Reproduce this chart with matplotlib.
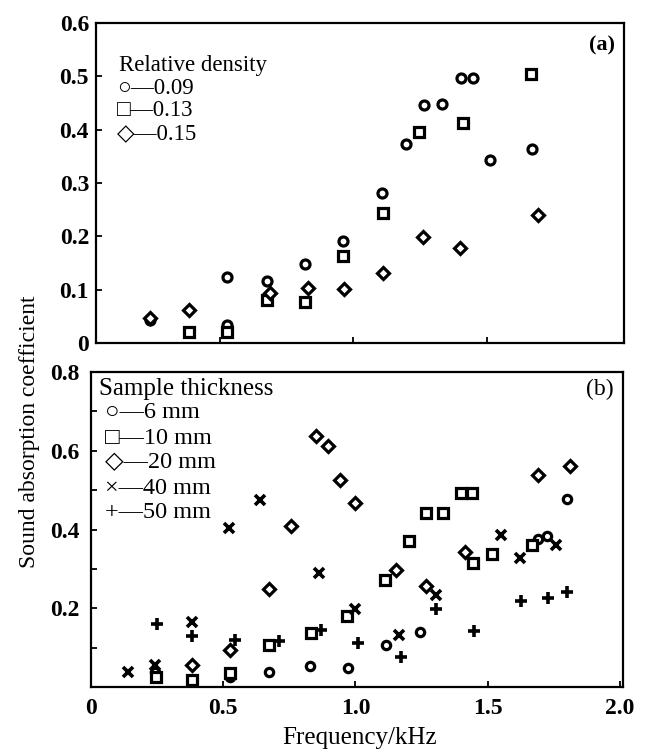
import matplotlib
matplotlib.use("Agg")
import matplotlib.pyplot as plt

# ---------- data ----------
# (a) relative density
a_x_009 = [0.236, 0.525, 0.525, 0.676, 0.82, 0.96, 1.106, 1.197, 1.265, 1.331, 1.404, 1.450, 1.513, 1.672]
a_y_009 = [0.043, 0.124, 0.034, 0.116, 0.148, 0.192, 0.281, 0.373, 0.446, 0.448, 0.497, 0.496, 0.344, 0.363]
a_x_013 = [0.383, 0.525, 0.676, 0.82, 0.96, 1.112, 1.248, 1.413, 1.667]
a_y_013 = [0.021, 0.021, 0.081, 0.077, 0.163, 0.243, 0.396, 0.413, 0.504]
a_x_015 = [0.236, 0.383, 0.686, 0.83, 0.965, 1.112, 1.26, 1.40, 1.694]
a_y_015 = [0.047, 0.062, 0.094, 0.103, 0.101, 0.131, 0.199, 0.178, 0.24]

# (b) sample thickness
b_x_6 = [0.243, 0.525, 0.674, 0.827, 0.972, 1.115, 1.246, 1.69, 1.726, 1.80]
b_y_6 = [0.039, 0.025, 0.037, 0.054, 0.049, 0.107, 0.14, 0.376, 0.384, 0.477]
b_x_10 = [0.247, 0.383, 0.525, 0.674, 0.831, 0.968, 1.112, 1.202, 1.266, 1.331, 1.40, 1.44, 1.446, 1.517, 1.667]
b_y_10 = [0.025, 0.018, 0.035, 0.107, 0.136, 0.18, 0.273, 0.371, 0.442, 0.442, 0.492, 0.492, 0.314, 0.339, 0.36]
b_x_20 = [0.383, 0.525, 0.674, 0.756, 0.85, 0.897, 0.943, 1.0, 1.152, 1.266, 1.413, 1.69, 1.81]
b_y_20 = [0.056, 0.094, 0.25, 0.409, 0.638, 0.612, 0.525, 0.468, 0.297, 0.256, 0.342, 0.538, 0.561]
b_x_40 = [0.14, 0.243, 0.383, 0.522, 0.639, 0.862, 1.0, 1.165, 1.303, 1.55, 1.623, 1.76]
b_y_40 = [0.037, 0.056, 0.166, 0.403, 0.475, 0.289, 0.197, 0.132, 0.234, 0.386, 0.327, 0.36]
b_x_50 = [0.249, 0.383, 0.543, 0.712, 0.868, 1.01, 1.171, 1.303, 1.45, 1.628, 1.729, 1.80]
b_y_50 = [0.159, 0.129, 0.119, 0.117, 0.145, 0.111, 0.077, 0.199, 0.142, 0.219, 0.227, 0.241]

a_legend = ["○—0.09", "□—0.13", "◇—0.15"]
b_legend = ["○—6 mm", "□—10 mm", "◇—20 mm", "×—40 mm", "+—50 mm"]
x_ticks = [0, 0.5, 1.0, 1.5, 2.0]
x_ticklabels = ["0", "0.5", "1.0", "1.5", "2.0"]
a_yticks = [0, 0.1, 0.2, 0.3, 0.4, 0.5, 0.6]
a_yticklabels = ["0", "0.1", "0.2", "0.3", "0.4", "0.5", "0.6"]
b_yticks_major = [0.2, 0.4, 0.6, 0.8]
b_yticklabels = ["0.2", "0.4", "0.6", "0.8"]
b_yticks_minor = [0.1, 0.3, 0.5, 0.7]

# ---------- figure ----------
W, H = 646, 753
fig = plt.figure(figsize=(W / 100, H / 100), dpi=100)
SERIF = ["Liberation Serif", "DejaVu Serif"]
GLYPH = ["Liberation Serif", "DejaVu Sans"]
plt.rcParams["font.family"] = SERIF

def add_ax(l, r, t, b):
    return fig.add_axes([l / W, 1 - b / H, (r - l) / W, (b - t) / H])

axa = add_ax(96, 624, 23, 343)
axb = add_ax(91, 623, 372, 687)

x0 = 87.0
ppk = 266.4
axa.set_xlim((96 - x0) / ppk, (624 - x0) / ppk)
axb.set_xlim((91 - x0) / ppk, (623 - x0) / ppk)
axa.set_ylim(0, 0.6)
axb.set_ylim(0, 0.8)

mk = dict(linestyle="none", markerfacecolor="white", markeredgecolor="black",
          markeredgewidth=2.3, color="black")

axa.plot(a_x_009, a_y_009, marker="o", markersize=6.5, **mk)
axa.plot(a_x_013, a_y_013, marker="s", markersize=6.5, **mk)
axa.plot(a_x_015, a_y_015, marker="D", markersize=6.5, **mk)

axb.plot(b_x_6, b_y_6, marker="o", markersize=6, **mk)
axb.plot(b_x_10, b_y_10, marker="s", markersize=6.5, **mk)
axb.plot(b_x_20, b_y_20, marker="D", markersize=6.5, **mk)
axb.plot(b_x_40, b_y_40, marker="x", markersize=6.5, linestyle="none", color="black", markeredgewidth=2.6)
axb.plot(b_x_50, b_y_50, marker="+", markersize=8, linestyle="none", color="black", markeredgewidth=2.6)

for ax in (axa, axb):
    for s in ax.spines.values():
        s.set_linewidth(1.6)
    ax.tick_params(direction="in", length=4, width=1.3, labelsize=17, top=False, right=False)

axa.set_xticks([0.5, 1.0, 1.5])
axa.set_xticklabels([])
axa.set_yticks(a_yticks)
axa.set_yticklabels(a_yticklabels, fontweight="bold")
axa.tick_params(axis="y", pad=5)

axb.set_xticks(x_ticks)
axb.set_xticklabels(x_ticklabels, fontweight="bold")
axb.tick_params(axis="x", pad=8)
axb.set_yticks(b_yticks_major)
axb.set_yticklabels(b_yticklabels, fontweight="bold")
axb.set_yticks(b_yticks_minor, minor=True)
axb.tick_params(axis="y", which="minor", direction="in", length=4, width=1.3)
axb.tick_params(axis="y", pad=8)

# legends as text
axa.text((119 - 96) / 528, (343 - 66) / 320, "Relative density", transform=axa.transAxes,
         fontsize=16.5, va="center", ha="left", family=SERIF)
for i, s in enumerate(a_legend):
    yy = [88, 110, 134][i]
    axa.text((117 - 96) / 528, (343 - yy) / 320, s, transform=axa.transAxes,
             fontsize=16.5, va="center", ha="left", family=GLYPH)
axa.text((615 - 96) / 528, (343 - 45) / 320, "(a)", transform=axa.transAxes,
         fontsize=16, va="center", ha="right", family=SERIF, fontweight="bold")

axb.text((99 - 91) / 532, (687 - 389) / 315, "Sample thickness", transform=axb.transAxes,
         fontsize=18, va="center", ha="left", family=SERIF)
for i, s in enumerate(b_legend):
    yy = [413, 438, 463, 488, 512][i]
    axb.text((105 - 91) / 532, (687 - yy) / 315, s, transform=axb.transAxes,
             fontsize=17.5, va="center", ha="left", family=GLYPH)
axb.text((614 - 91) / 532, (687 - 389) / 315, "(b)", transform=axb.transAxes,
         fontsize=17, va="center", ha="right", family=SERIF)

fig.text(360 / W, 1 - 738 / H, "Frequency/kHz", fontsize=18, ha="center", va="center", family=SERIF)
fig.text(30 / W, 1 - 432 / H, "Sound absorption coefficient", fontsize=17, ha="center",
         va="center", rotation=90, family=SERIF)

fig.savefig("out.png", dpi=100, facecolor="white")
